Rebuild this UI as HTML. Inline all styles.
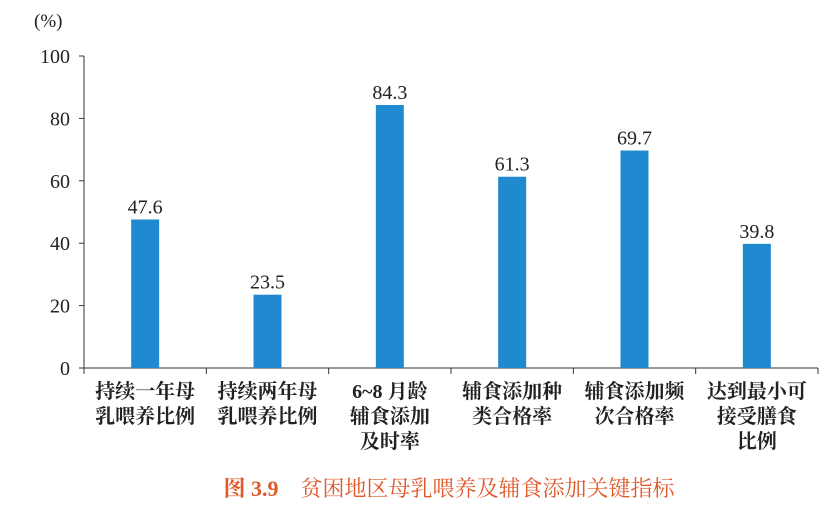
<!DOCTYPE html>
<html><head><meta charset="utf-8"><style>
body{margin:0;background:#fff;}
svg text{font-family:"Liberation Serif","Noto Serif CJK SC",serif;fill:#222;}
</style></head><body>
<svg width="835" height="506" id="c"></svg>
<script>
const categories=[["持续一年母","乳喂养比例"],["持续两年母","乳喂养比例"],["6~8 月龄","辅食添加","及时率"],["辅食添加种","类合格率"],["辅食添加频","次合格率"],["达到最小可","接受膳食","比例"]];
const values=[47.6,23.5,84.3,61.3,69.7,39.8];
const yTicks=[0,20,40,60,80,100];
const svg=document.getElementById('c');
const NS='http://www.w3.org/2000/svg';
const x0=84,x1=818,y0=368,yTop=56;
const step=(x1-x0)/categories.length;
const yS=v=>y0-(v/100)*(y0-yTop);
const xC=i=>x0+step*(i+0.5);
function mk(t,a,txt){const e=document.createElementNS(NS,t);for(const k in a)e.setAttribute(k,a[k]);if(txt!=null)e.textContent=txt;svg.appendChild(e);return e;}
let e;
e=mk('line',{x1:x0,y1:yTop,x2:x0,y2:y0,stroke:'#333','stroke-width':1});


e=mk('line',{x1:x0,y1:y0,x2:x1,y2:y0,stroke:'#333','stroke-width':1});


e=mk('text',{x:34,y:27,'font-size':19},'(%)');


yTicks.forEach(t=>{
 e=mk('line',{x1:x0-5,y1:yS(t),x2:x0,y2:yS(t),stroke:'#333'});
 
 
 e=mk('text',{x:x0-14,y:yS(t)+7,'font-size':20,'text-anchor':'end'},t);
 
 
});
for(let i=0;i<=categories.length;i++){
 e=mk('line',{x1:x0+step*i,y1:y0,x2:x0+step*i,y2:y0+6,stroke:'#333'});
 
 
}
values.forEach((v,i)=>{
 const w=28;
 e=mk('rect',{x:xC(i)-w/2,y:yS(v),width:w,height:y0-yS(v),fill:'#1f8ad0'});
 
 
 e=mk('text',{x:xC(i),y:yS(v)-6,'font-size':20,'text-anchor':'middle'},v.toFixed(1));
 
 
 categories[i].forEach((ln,j)=>{
  e=mk('text',{x:xC(i),y:398+j*25,'font-size':20,'font-weight':'bold','text-anchor':'middle'},ln);
  
  
 });
});
e=mk('text',{x:449,y:496,'font-size':22,'text-anchor':'middle',style:'fill:#e0592b'});
e.innerHTML='<tspan font-weight="bold">图 3.9</tspan>　贫困地区母乳喂养及辅食添加关键指标';


</script>
</body></html>
